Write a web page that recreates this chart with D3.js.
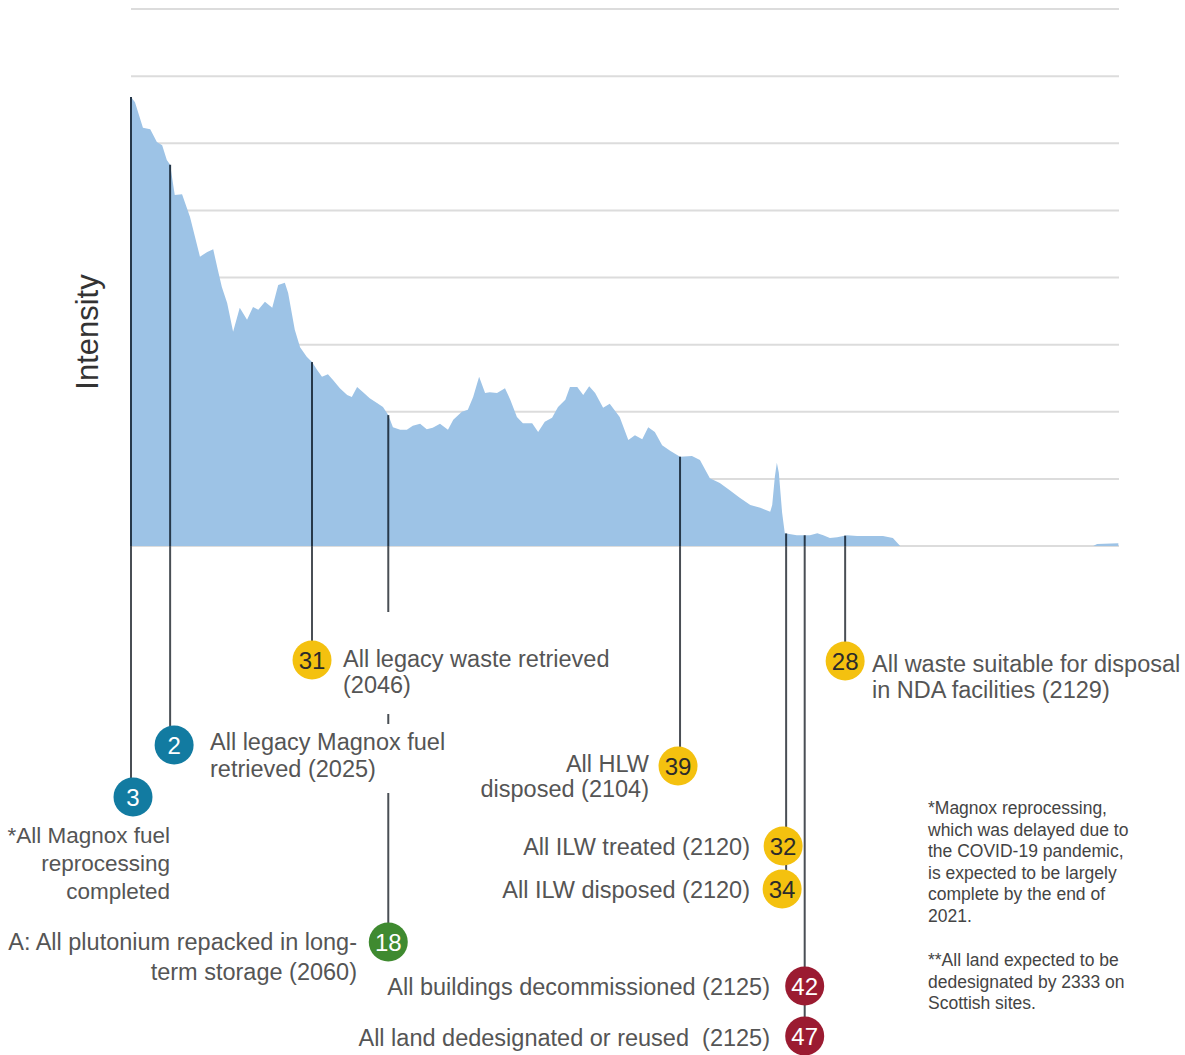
<!DOCTYPE html>
<html>
<head>
<meta charset="utf-8">
<script src="https://cdn.jsdelivr.net/npm/d3@7"></script>
<style>
  html, body { margin: 0; padding: 0; background: #fff; }
  svg { display: block; }
  text { white-space: pre; }
</style>
</head>
<body>
<svg id="chart" width="1185" height="1055"></svg>
<script>
// ---------------- DATA ----------------
const years = [2021.0,2021.6,2022.8,2023.9,2024.9,2025.7,2026.4,2026.9,2027.6,2028.7,2029.9,2031.4,2032.5,2033.4,2034.1,2034.7,2035.5,2036.4,2037.4,2038.5,2039.4,2040.2,2041.2,2042.3,2043.2,2044.2,2044.7,2045.7,2046.5,2047.5,2048.3,2049.1,2049.8,2050.7,2051.5,2052.5,2053.6,2054.3,2055.1,2056.0,2057.0,2058.1,2059.0,2059.8,2060.5,2061.6,2062.6,2063.5,2064.6,2065.6,2066.5,2067.6,2068.8,2069.6,2070.9,2071.8,2072.6,2073.5,2074.4,2075.1,2076.2,2077.4,2078.2,2079.2,2080.1,2081.5,2082.4,2083.4,2084.5,2085.4,2086.5,2087.2,2088.3,2089.2,2090.1,2091.0,2092.2,2093.2,2094.7,2096.0,2097.0,2098.1,2099.0,2100.0,2101.1,2102.3,2103.8,2105.6,2106.8,2108.3,2109.8,2111.3,2112.8,2114.4,2115.9,2117.4,2117.7,2118.1,2118.4,2118.7,2119.2,2119.6,2121.4,2123.4,2124.5,2125.4,2126.4,2127.5,2129.0,2130.5,2134.4,2135.9,2137.0,2166.1,2166.7,2169.9];
const intensity = [6.69,6.61,6.23,6.21,6.02,5.97,5.75,5.68,5.23,5.24,4.90,4.31,4.38,4.42,4.11,3.86,3.62,3.19,3.55,3.37,3.56,3.52,3.64,3.55,3.89,3.92,3.77,3.22,2.96,2.82,2.74,2.62,2.52,2.56,2.47,2.35,2.25,2.22,2.37,2.29,2.20,2.13,2.07,1.95,1.77,1.73,1.73,1.79,1.82,1.74,1.76,1.82,1.73,1.88,2.00,2.03,2.22,2.52,2.28,2.29,2.28,2.35,2.18,1.92,1.83,1.83,1.70,1.85,1.91,2.07,2.18,2.37,2.37,2.25,2.38,2.28,2.06,2.12,1.92,1.58,1.65,1.59,1.77,1.70,1.50,1.42,1.33,1.34,1.28,1.01,0.94,0.83,0.72,0.61,0.57,0.51,0.61,1.03,1.24,1.09,0.49,0.19,0.16,0.16,0.19,0.16,0.12,0.13,0.16,0.15,0.15,0.12,0.00,0.00,0.03,0.04];

const gridValues = [0,1,2,3,4,5,6,7,8];
const yAxisTitle = "Intensity";

const milestoneIds    = ["3","2","31","18","39","32","34","42","47","28"];
const milestoneYears  = [2021.0,2026.9,2048.3,2059.8,2103.8,2119.8,2119.8,2122.6,2122.6,2128.7];
const milestoneGroups = ["fuel","fuel","waste","plutonium","waste","waste","waste","land","land","waste"];
const milestoneLabels = [
  ["*All Magnox fuel","reprocessing","completed"],
  ["All legacy Magnox fuel","retrieved (2025)"],
  ["All legacy waste retrieved","(2046)"],
  ["A: All plutonium repacked in long-","term storage (2060)"],
  ["All HLW","disposed (2104)"],
  ["All ILW treated (2120)"],
  ["All ILW disposed (2120)"],
  ["All buildings decommissioned (2125)"],
  ["All land dedesignated or reused  (2125)"],
  ["All waste suitable for disposal","in NDA facilities (2129)"]
];
const footnote1 = ["*Magnox reprocessing,","which was delayed due to","the COVID-19 pandemic,","is expected to be largely","complete by the end of","2021."];
const footnote2 = ["**All land expected to be","dedesignated by 2333 on","Scottish sites."];

// ---------------- STYLE / LAYOUT ----------------
const groupColor = {fuel:"#127ba1", waste:"#f4c10f", plutonium:"#3f8a30", land:"#9b1b31"};
const groupText  = {fuel:"#ffffff", waste:"#2b2b2b", plutonium:"#ffffff", land:"#ffffff"};

const layout = {
  "3":  {cy:797, cdx:2, anchor:"end",   lx:170, ly:843, lh:28, fs:22.5},
  "2":  {cy:745, cdx:4, anchor:"start", lx:210, ly:750, lh:27, mask:[5,11]},
  "31": {cy:660, cdx:0, anchor:"start", lx:343, ly:667, lh:26, mask:[34,16]},
  "18": {cy:942, cdx:0, anchor:"end",   lx:357, ly:950, lh:30},
  "39": {cy:766, cdx:-2, anchor:"end",  lx:649, ly:772, lh:25},
  "32": {cy:846, cdx:-3, anchor:"end",  lx:750, ly:855, lh:26},
  "34": {cy:889, cdx:-4, anchor:"end",  lx:750, ly:898, lh:26},
  "42": {cy:986, cdx:0, anchor:"end",   lx:770, ly:995, lh:26},
  "47": {cy:1036, cdx:0, anchor:"end",  lx:770, ly:1046, lh:26},
  "28": {cy:661, cdx:0, anchor:"start", lx:872, ly:672, lh:26}
};

const plot = {left:131, right:1119, top:9, bottom:546};
const svg = d3.select("#chart");

const x = d3.scaleLinear().domain([2021, 2170]).range([plot.left, plot.right]);
const y = d3.scaleLinear().domain([0, 8]).range([plot.bottom, plot.top]);

const data = years.map((yr, i) => ({yr, v: intensity[i]}));

// gridlines
svg.append("g").selectAll("line").data(gridValues).join("line")
  .attr("x1", plot.left).attr("x2", plot.right)
  .attr("y1", d => y(d)).attr("y2", d => y(d))
  .attr("stroke", "#dcdcdc").attr("stroke-width", 2);

// area
const area = d3.area().x(d => x(d.yr)).y0(y(0)).y1(d => y(d.v)).curve(d3.curveLinear);
svg.append("path").datum(data).attr("d", area).attr("fill", "#9dc3e6");

const font = "Liberation Sans, Arial, sans-serif";

// y title
svg.append("text")
  .attr("transform", `translate(${98},${332}) rotate(-90)`)
  .attr("text-anchor", "middle")
  .attr("font-family", font)
  .attr("font-size", 31).attr("fill", "#333")
  .text(yAxisTitle);

// interpolate area top at a year
const bis = d3.bisector(d => d.yr).left;
function valueAt(yr) {
  const i = bis(data, yr);
  if (i <= 0) return data[0].v;
  if (i >= data.length) return data[data.length - 1].v;
  const a = data[i - 1], b = data[i];
  const t = (yr - a.yr) / (b.yr - a.yr);
  return a.v + t * (b.v - a.v);
}

const milestones = milestoneIds.map((id, i) => ({
  id, yr: milestoneYears[i], group: milestoneGroups[i], lines: milestoneLabels[i], L: layout[id]
}));

// vertical lines
const lineGroups = d3.groups(milestones, d => d.yr);
const gLines = svg.append("g");
lineGroups.forEach(([yr, ms]) => {
  const lowest = d3.max(ms, m => m.L.cy);
  const xp = x(yr);
  const yTop = y(valueAt(yr));
  gLines.append("line")
    .attr("x1", xp).attr("x2", xp)
    .attr("y1", y(0)).attr("y2", lowest)
    .attr("stroke", "#4a4f55").attr("stroke-width", 2);
  gLines.append("line")
    .attr("x1", xp).attr("x2", xp)
    .attr("y1", yTop).attr("y2", y(0))
    .attr("stroke", "#26384a").attr("stroke-width", 2);
});

// labels
const gLab = svg.append("g");
milestones.forEach(m => {
  const L = m.L;
  const g = gLab.append("g");
  const t = g.append("text")
    .attr("font-family", font).attr("font-size", L.fs || 23.5)
    .attr("fill", "#555").attr("text-anchor", L.anchor);
  m.lines.forEach((ln, k) => {
    t.append("tspan").attr("x", L.lx).attr("y", L.ly + k * L.lh).text(ln);
  });
  if (L.mask) {
    const bb = t.node().getBBox();
    g.insert("rect", "text")
      .attr("x", bb.x - 4).attr("width", bb.width + 8)
      .attr("y", bb.y - L.mask[0]).attr("height", bb.height + L.mask[0] + L.mask[1])
      .attr("fill", "#fff");
  }
});

// circles
const gC = svg.append("g");
milestones.forEach(m => {
  const cx = x(m.yr) + m.L.cdx;
  gC.append("circle").attr("cx", cx).attr("cy", m.L.cy).attr("r", 19.5)
    .attr("fill", groupColor[m.group]);
  gC.append("text").attr("x", cx).attr("y", m.L.cy + 8.5)
    .attr("text-anchor", "middle")
    .attr("font-family", font).attr("font-size", 24)
    .attr("fill", groupText[m.group]).text(m.id);
});

// footnotes
const fn = svg.append("g").attr("font-family", font).attr("font-size", 17.5).attr("fill", "#444");
footnote1.forEach((ln, k) => fn.append("text").attr("x", 928).attr("y", 814 + k * 21.5).text(ln));
footnote2.forEach((ln, k) => fn.append("text").attr("x", 928).attr("y", 966 + k * 21.5).text(ln));
</script>
</body>
</html>
